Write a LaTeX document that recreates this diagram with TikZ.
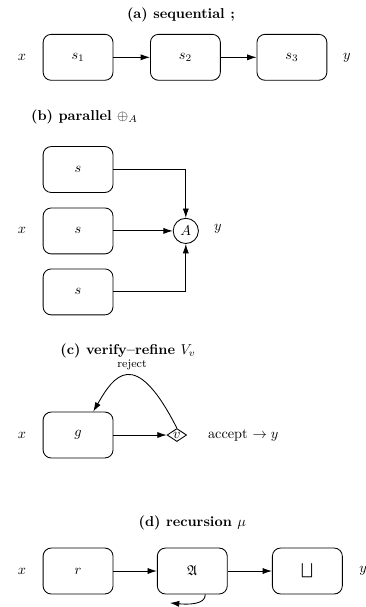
\documentclass[tikz,border=0pt]{standalone}
\usepackage{amssymb}
\usetikzlibrary{shapes, arrows.meta, positioning}

\begin{document}
\begin{tikzpicture} [
			line width=0.6pt,
			every node/.style={align=center,draw,rectangle,rounded corners=2mm},
			stage/.style={minimum width=17.2mm,minimum height=11.3mm},
			hdr/.style={draw=none,font=\bfseries},
			io/.style={draw=none},
			merge/.style={circle,inner sep=0pt,minimum size=6.2mm},
			test/.style={diamond,sharp corners,aspect=1.5,inner sep=0.4pt},
			flow/.style={-{Latex[length=2.3mm,width=1.5mm]}}
		]
			\useasboundingbox (0,0) rectangle (9,14.93);
			% (a) sequential
			\node at (4.45,14.56) [hdr] (tseq) {(a) sequential ;};
			\node at (0.54,13.52) [io] (xa) {$x$};
			\node at (1.92,13.52) [stage] (s1) {$s_1$};
			\node at (4.56,13.52) [stage] (s2) {$s_2$};
			\node at (7.18,13.52) [stage] (s3) {$s_3$};
			\node at (8.53,13.52) [io] (ya) {$y$};
			\path[draw,flow] (s1) -- (s2);
			\path[draw,flow] (s2) -- (s3);
			% (b) parallel
			\node at (0.64,12.05) [hdr,anchor=west] (tpar) {(b) parallel $\oplus_A$};
			\node at (0.54,9.25) [io] (xb) {$x$};
			\node at (1.92,10.76) [stage] (par1) {$s$};
			\node at (1.92,9.25) [stage] (par2) {$s$};
			\node at (1.92,7.75) [stage] (par3) {$s$};
			\node at (4.57,9.25) [merge] (agg) {$A$};
			\node at (5.36,9.3) [io] (yb) {$y$};
			\path[draw,flow] (par1.east) -| (agg.north);
			\path[draw,flow] (par2) -- (agg);
			\path[draw,flow] (par3.east) -| (agg.south);
			% (c) verify-refine
			\node at (3.15,6.3) [hdr] (tver) {(c) verify--refine $V_v$};
			\node at (3.25,5.95) [io,font=\footnotesize] (rej) {reject};
			\node at (0.54,4.23) [io] (xc) {$x$};
			\node at (1.92,4.23) [stage] (gen) {$g$};
			\node at (4.35,4.23) [test] (chk) {$v$};
			\node at (4.99,4.23) [io,anchor=west] (acc) {accept $\rightarrow y$};
			\path[draw,flow] (gen) -- (chk);
			\path[draw,flow] (chk.north) .. controls (3.31,6.45) and (2.79,5.67) .. (gen.57);
			% (d) recursion
			\node at (4.73,2.07) [hdr] (trec) {(d) recursion $\mu$};
			\node at (0.54,0.885) [io] (xd) {$x$};
			\node at (1.92,0.885) [stage] (rec) {$r$};
			\node at (4.73,0.885) [stage] (fold) {$\mathfrak{A}$};
			\node at (7.56,0.885) [stage] (join) {$\bigsqcup$};
			\node at (8.93,0.885) [io] (yd) {$y$};
			\coordinate (loopend) at (4.18,0.10);
			\path[draw,flow] (rec) -- (fold);
			\path[draw,flow] (fold) -- (join);
			\path[draw,flow] (fold.-61) .. controls (5.06,0.05) and (4.6,0.06) .. (loopend);
		\end{tikzpicture}
\end{document}
